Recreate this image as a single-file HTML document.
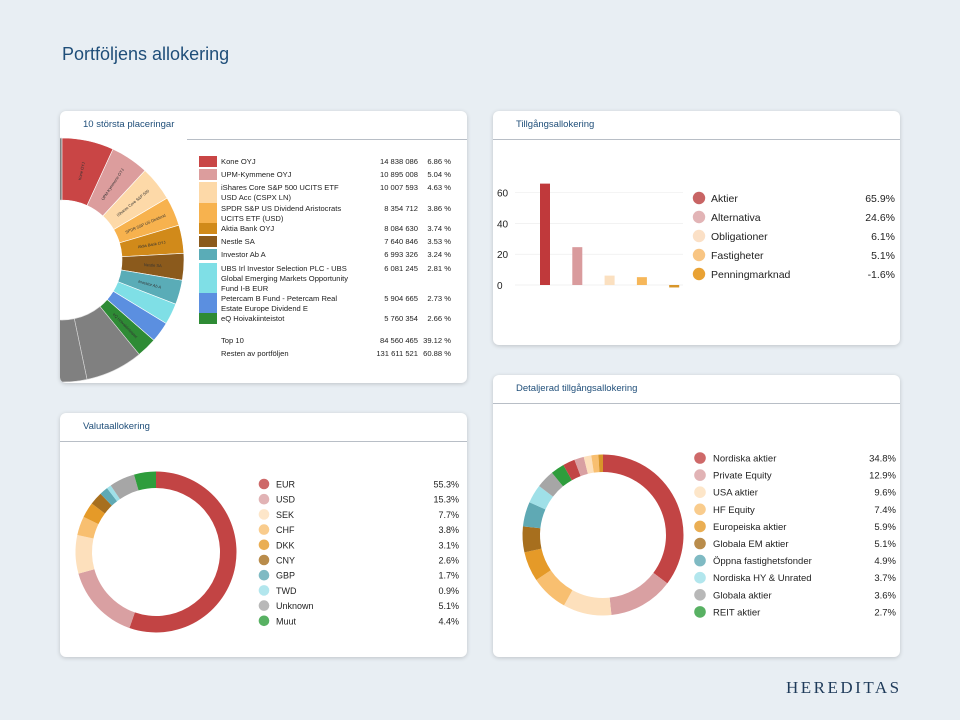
<!DOCTYPE html>
<html><head><meta charset="utf-8">
<style>
body{margin:0;width:960px;height:720px;background:#e8eef3;font-family:"Liberation Sans",sans-serif;position:relative;overflow:hidden}
.title{position:absolute;left:62px;top:44px;font-size:18px;color:#1f4e79}
.card{position:absolute;background:#fff;border-radius:6px;box-shadow:0 1px 4px rgba(0,0,0,.18);overflow:hidden}
.card .hd{position:absolute;left:0;right:0;top:0;height:28px;border-bottom:1px solid #b8bec6}
.card .hd span{position:absolute;left:23px;top:8px;font-size:9.5px;color:#1f4e79}
.logo{position:absolute;left:786px;top:678px;font-family:"Liberation Serif",serif;font-size:17px;letter-spacing:2.5px;color:#1f3b5a}
svg{position:absolute;left:0;top:0}
svg text{font-family:"Liberation Sans",sans-serif}
</style></head><body>
<div class="title">Portföljens allokering</div>

<div class="card" style="left:60px;top:111px;width:407px;height:272px">
<div class="hd" style="left:127px;"></div><span style="position:absolute;left:23px;top:8px;font-size:9.5px;color:#1f4e79">10 största placeringar</span>
<svg id="s1" width="407" height="272"></svg></div>

<div class="card" style="left:493px;top:111px;width:407px;height:234px">
<div class="hd"><span>Tillgångsallokering</span></div>
<svg id="s2" width="407" height="234"></svg></div>

<div class="card" style="left:60px;top:413px;width:407px;height:244px">
<div class="hd"><span>Valutaallokering</span></div>
<svg id="s3" width="407" height="244"></svg></div>

<div class="card" style="left:493px;top:375px;width:407px;height:282px">
<div class="hd"><span>Detaljerad tillgångsallokering</span></div>
<svg id="s4" width="407" height="282"></svg></div>

<div class="logo">HEREDITAS</div>

<script>
// ---- data ----
const holdNames=[["Kone OYJ"],["UPM-Kymmene OYJ"],["iShares Core S&P 500 UCITS ETF","USD Acc (CSPX LN)"],["SPDR S&P US Dividend Aristocrats","UCITS ETF (USD)"],["Aktia Bank OYJ"],["Nestle SA"],["Investor Ab A"],["UBS Irl Investor Selection PLC - UBS","Global Emerging Markets Opportunity","Fund I-B EUR"],["Petercam B Fund - Petercam Real","Estate Europe Dividend E"],["eQ Hoivakiinteistot"]];
const holdValues=["14 838 086","10 895 008","10 007 593","8 354 712","8 084 630","7 640 846","6 993 326","6 081 245","5 904 665","5 760 354"];
const holdPct=[6.86,5.04,4.63,3.86,3.74,3.53,3.24,2.81,2.73,2.66];
const restPct=60.88;
const holdColors=["#c94545","#dc9d9d","#fdd9a8","#f7b24e","#d18a1a","#8b5a1c","#5aacb7","#7fdfe6","#5b8fe0","#2e8b35"];
const sliceLabels=["Kone OYJ","UPM-Kymmene OYJ","iShares Core S&P 500","SPDR S&P US Dividend","Aktia Bank OYJ","Nestle SA","Investor Ab A","","","eQ Hoivakiinteistot"];

const assetCats=["Aktier","Alternativa","Obligationer","Fastigheter","Penningmarknad"];
const assetVals=[65.9,24.6,6.1,5.1,-1.6];
const assetColors=["#c0393b","#d99b9d","#fbe0c0","#f6b75a","#d8962a"];
const assetDot=["#c86464","#e2b4b6","#fbe0c6","#f8c583","#e9a234"];
const yTicks=[0,20,40,60];

const curCats=["EUR","USD","SEK","CHF","DKK","CNY","GBP","TWD","Unknown","Muut"];
const curVals=[55.3,15.3,7.7,3.8,3.1,2.6,1.7,0.9,5.1,4.4];
const curColors=["#c24444","#d9a0a2","#fde0bc","#f8bf70","#e59a28","#a76f1e","#5fa9b4","#9fe0e8","#a6a6a6","#2e9d3c"];

const detCats=["Nordiska aktier","Private Equity","USA aktier","HF Equity","Europeiska aktier","Globala EM aktier","Öppna fastighetsfonder","Nordiska HY & Unrated","Globala aktier","REIT aktier"];
const detVals=[34.8,12.9,9.6,7.4,5.9,5.1,4.9,3.7,3.6,2.7];
const detExtraVals=[2.4,1.9,1.5,1.4,0.9];
const detExtraColors=["#c24444","#d9a0a2","#fde0bc","#f8bf70","#d8962a"];

const NS="http://www.w3.org/2000/svg";
function mk(svg,tag,attrs,name,text){const e=document.createElementNS(NS,tag);for(const k in attrs)e.setAttribute(k,attrs[k]);


if(text!==undefined)e.textContent=text;svg.appendChild(e);return e;}
function arc(cx,cy,r0,r1,a0,a1){const p=(r,a)=>[cx+r*Math.sin(a),cy-r*Math.cos(a)];const L=a1-a0>Math.PI?1:0;
const [x1,y1]=p(r1,a0),[x2,y2]=p(r1,a1),[x3,y3]=p(r0,a1),[x4,y4]=p(r0,a0);
return `M${x1},${y1}A${r1},${r1} 0 ${L} 1 ${x2},${y2}L${x3},${y3}A${r0},${r0} 0 ${L} 0 ${x4},${y4}Z`;}
function donut(svg,cx,cy,r0,r1,vals,cols,name){const tot=vals.reduce((s,v)=>s+v,0);let a=0;vals.forEach((v,i)=>{const a1=a+v/tot*2*Math.PI;
mk(svg,'path',{d:arc(cx,cy,r0,r1,a,a1),fill:cols[i]},name+'-slice');a=a1;});}

// ---- card 1 ----
const s1=document.getElementById('s1');
{const cx=2,cy=149,r0=60,r1=122;let a=0;
holdPct.forEach((v,i)=>{const a1=a+v/100*2*Math.PI;
mk(s1,'path',{d:arc(cx,cy,r0,r1,a,a1),fill:holdColors[i],stroke:'#fff','stroke-width':0.6},'holding-slice');
if(sliceLabels[i]){const m=(a+a1)/2,r=(r0+r1)/2,x=cx+r*Math.sin(m),y=cy-r*Math.cos(m);let deg=m*180/Math.PI-90;
mk(s1,'text',{x:x,y:y+1.5,'font-size':4,'text-anchor':'middle',fill:'#333',transform:`rotate(${deg} ${x} ${y})`},'slice-label',sliceLabels[i]);}
a=a1;});
const n=8,step=restPct/100*2*Math.PI/n;for(let k=0;k<n;k++){mk(s1,'path',{d:arc(cx,cy,r0,r1,a+k*step,a+(k+1)*step),fill:'#808080',stroke:'#ddd','stroke-width':0.6},'rest-slice');}
let y=45;const rowH=[13,13,21,20,13,13,14,30,20,13];
holdNames.forEach((lines,i)=>{
mk(s1,'rect',{x:139,y:y,width:18,height:lines.length>1?lines.length*10+1:11,fill:holdColors[i]},'legend-swatch');
lines.forEach((t,j)=>mk(s1,'text',{x:161,y:y+8+j*10,'font-size':7.6,fill:'#222'},'holding-name',t));
mk(s1,'text',{x:358,y:y+8,'font-size':7.6,fill:'#222','text-anchor':'end'},'holding-value',holdValues[i]);
mk(s1,'text',{x:391,y:y+8,'font-size':7.6,fill:'#222','text-anchor':'end'},'holding-pct',holdPct[i].toFixed(2)+' %');
y+=rowH[i];});
mk(s1,'text',{x:161,y:232,'font-size':7.6,fill:'#222'},'top10-label','Top 10');
mk(s1,'text',{x:358,y:232,'font-size':7.6,fill:'#222','text-anchor':'end'},'top10-value','84 560 465');
mk(s1,'text',{x:391,y:232,'font-size':7.6,fill:'#222','text-anchor':'end'},'top10-pct','39.12 %');
mk(s1,'text',{x:161,y:245,'font-size':7.6,fill:'#222'},'rest-label','Resten av portföljen');
mk(s1,'text',{x:358,y:245,'font-size':7.6,fill:'#222','text-anchor':'end'},'rest-value','131 611 521');
mk(s1,'text',{x:391,y:245,'font-size':7.6,fill:'#222','text-anchor':'end'},'rest-pct','60.88 %');
}

// ---- card 2 bar chart ----
const s2=document.getElementById('s2');
{const y0=174,k=(174-81.7)/60;const yScale=v=>y0-v*k;const xScale=i=>52+i*32.3;
yTicks.forEach(t=>{mk(s2,'line',{x1:22,x2:190,y1:yScale(t),y2:yScale(t),stroke:'#eee','stroke-width':0.7},'gridline');
mk(s2,'text',{x:4,y:yScale(t)+4,'font-size':10,fill:'#222'},'y-tick-label',String(t));});
assetVals.forEach((v,i)=>{const ya=yScale(Math.max(v,0)),yb=yScale(Math.min(v,0));
mk(s2,'rect',{x:xScale(i)-5,y:ya,width:10,height:yb-ya,fill:assetColors[i]},'bar-'+assetCats[i].toLowerCase());});
assetCats.forEach((c,i)=>{const yy=87+i*19;
mk(s2,'circle',{cx:206,cy:yy,r:6.2,fill:assetDot[i]},'legend-dot');
mk(s2,'text',{x:218,y:yy+4,'font-size':10.5,fill:'#222'},'legend-label',c);
mk(s2,'text',{x:402,y:yy+4,'font-size':10.5,fill:'#222','text-anchor':'end'},'legend-value',assetVals[i].toFixed(1)+'%');});
}

// ---- card 3 currency donut ----
const s3=document.getElementById('s3');
donut(s3,96,139,64,80.5,curVals,curColors,'currency');
curCats.forEach((c,i)=>{const yy=71+i*15.2;
mk(s3,'circle',{cx:204,cy:yy,r:5.3,fill:curColors[i],opacity:0.8},'legend-dot');
mk(s3,'text',{x:216,y:yy+3.5,'font-size':9,fill:'#222'},'legend-label',c);
mk(s3,'text',{x:399,y:yy+3.5,'font-size':9,fill:'#222','text-anchor':'end'},'legend-value',curVals[i].toFixed(1)+'%');});

// ---- card 4 detailed donut ----
const s4=document.getElementById('s4');
donut(s4,110,160,63,80.5,detVals.concat(detExtraVals),curColors.concat(detExtraColors),'detailed');
detCats.forEach((c,i)=>{const yy=83+i*17.1;
mk(s4,'circle',{cx:207,cy:yy,r:5.8,fill:curColors[i],opacity:0.8},'legend-dot');
mk(s4,'text',{x:220,y:yy+3.5,'font-size':9.5,fill:'#222'},'legend-label',c);
mk(s4,'text',{x:403,y:yy+3.5,'font-size':9.5,fill:'#222','text-anchor':'end'},'legend-value',detVals[i].toFixed(1)+'%');});
</script>
</body></html>
